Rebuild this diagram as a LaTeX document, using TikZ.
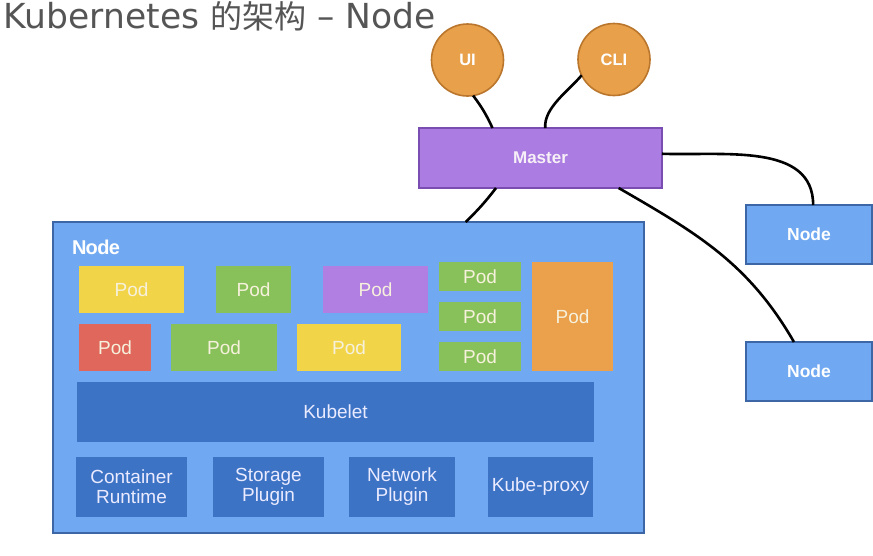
\documentclass[tikz,border=0pt]{standalone}
\usepackage{fontspec}
\setmainfont{Liberation Sans}
\newfontfamily\titlefont{DejaVu Sans}
\newfontfamily\cjk{Noto Sans CJK SC}
\definecolor{orfill}{HTML}{E8A04A}
\definecolor{ordraw}{HTML}{B9762C}
\definecolor{mfill}{HTML}{AB7DE2}
\definecolor{mdraw}{HTML}{7A4DB3}
\definecolor{nfill}{HTML}{70A9F1}
\definecolor{ndraw}{HTML}{3C66A6}
\definecolor{kfill}{HTML}{3D73C5}
\definecolor{pyellow}{HTML}{F2D449}
\definecolor{pgreen}{HTML}{88C159}
\definecolor{ppurple}{HTML}{B17FE2}
\definecolor{pred}{HTML}{E0675B}
\definecolor{porange}{HTML}{EBA04B}
\definecolor{ptext}{HTML}{F6F1DC}
\definecolor{titlegray}{HTML}{555555}
\begin{document}
\begin{tikzpicture}[x=1pt,y=-1pt,
  every node/.style={inner sep=0pt,outer sep=0pt},
  circ/.style={circle,draw=ordraw,fill=orfill,line width=1.6pt,minimum size=72pt,
    text=white,font=\fontsize{16.5}{18}\selectfont\bfseries},
  nbox/.style={rectangle,draw=ndraw,fill=nfill,line width=1.8pt,
    text=white,font=\fontsize{17.5}{19}\selectfont\bfseries},
  pod/.style={rectangle,text=ptext,font=\fontsize{19}{20}\selectfont},
  comp/.style={rectangle,fill=kfill,text=white!92!blue,align=center,
    font=\fontsize{19}{20}\selectfont,minimum height=60pt},
  conn/.style={line width=2.6pt,black}]
\useasboundingbox (0,0) rectangle (873,555);

% title
\node[anchor=base west,text=titlegray,font=\fontsize{34.5}{36}\selectfont] (title) at (4,28)
  {\titlefont Kubernetes {\cjk\fontsize{32}{36}\selectfont 的架构} – Node};

% big node box
\node[rectangle,draw=ndraw,fill=nfill,line width=2pt,minimum width=591pt,minimum height=311pt]
  (nodebox) at (348.5,377.5) {};
\node[anchor=base west,text=white,font=\fontsize{20}{20}\selectfont\bfseries] (nodelabel) at (72,254)
  {N\kern-0.8pt o\kern-0.6pt d\kern-0.5pt e};

% pods
\node[pod,fill=pyellow,minimum width=105pt,minimum height=47pt] (p1) at (131.5,289.5) {Pod};
\node[pod,fill=pgreen,minimum width=75pt,minimum height=47pt] (p2) at (253.5,289.5) {Pod};
\node[pod,fill=ppurple,minimum width=105pt,minimum height=47pt] (p3) at (375.5,289.5) {Pod};
\node[pod,fill=pred,minimum width=72pt,minimum height=47pt] (p4) at (115,347.5) {Pod};
\node[pod,fill=pgreen,minimum width=106pt,minimum height=47pt] (p5) at (224,347.5) {Pod};
\node[pod,fill=pyellow,minimum width=104pt,minimum height=47pt] (p6) at (349,347.5) {Pod};
\node[pod,fill=pgreen,minimum width=82pt,minimum height=29pt] (s1) at (480,276.5) {Pod};
\node[pod,fill=pgreen,minimum width=82pt,minimum height=29pt] (s2) at (480,316.5) {Pod};
\node[pod,fill=pgreen,minimum width=82pt,minimum height=29pt] (s3) at (480,356.5) {Pod};
\node[pod,fill=porange,minimum width=81pt,minimum height=109pt] (p7) at (572.5,316.5) {Pod};

% kubelet and components
\node[comp,minimum width=517pt] (kubelet) at (335.5,412) {Kubelet};
\node[comp,minimum width=111pt] (cr) at (131.5,487) {Container\\Runtime};
\node[comp,minimum width=111pt] (sp) at (268.5,487) {Storage\\Plugin};
\node[comp,minimum width=106pt] (np) at (402,487) {Network\\Plugin};
\node[comp,minimum width=105pt] (kp) at (540.5,487) {Kube-proxy};

% master, clients, other nodes
\node[circ] (ui) at (467.5,60) {UI};
\node[circ] (cli) at (614,59.5) {CLI};
\node[rectangle,draw=mdraw,fill=mfill,line width=1.8pt,minimum width=243pt,minimum height=60pt,
  text=white!94!violet,font=\fontsize{17}{19}\selectfont\bfseries] (master) at (540.5,158) {Master};
\node[nbox,minimum width=126pt,minimum height=59pt] (n1) at (809,234.5) {Node};
\node[nbox,minimum width=126pt,minimum height=59pt] (n2) at (809,371.5) {Node};

% connectors
\draw[conn] (ui.-81) to[bend left=6] (master.148.3);
\draw[conn] (cli.206) to[out=230,in=95,looseness=0.8] (master.81.5);
\draw[conn] (master.214.6) to[bend left=4] (nodebox.53.9);
\draw[conn] (master.2.4) to[out=-2,in=90] (n1.82.3);
\draw[conn] (master.-21.9) to[out=-30,in=120] (n2.117);
\end{tikzpicture}
\end{document}
